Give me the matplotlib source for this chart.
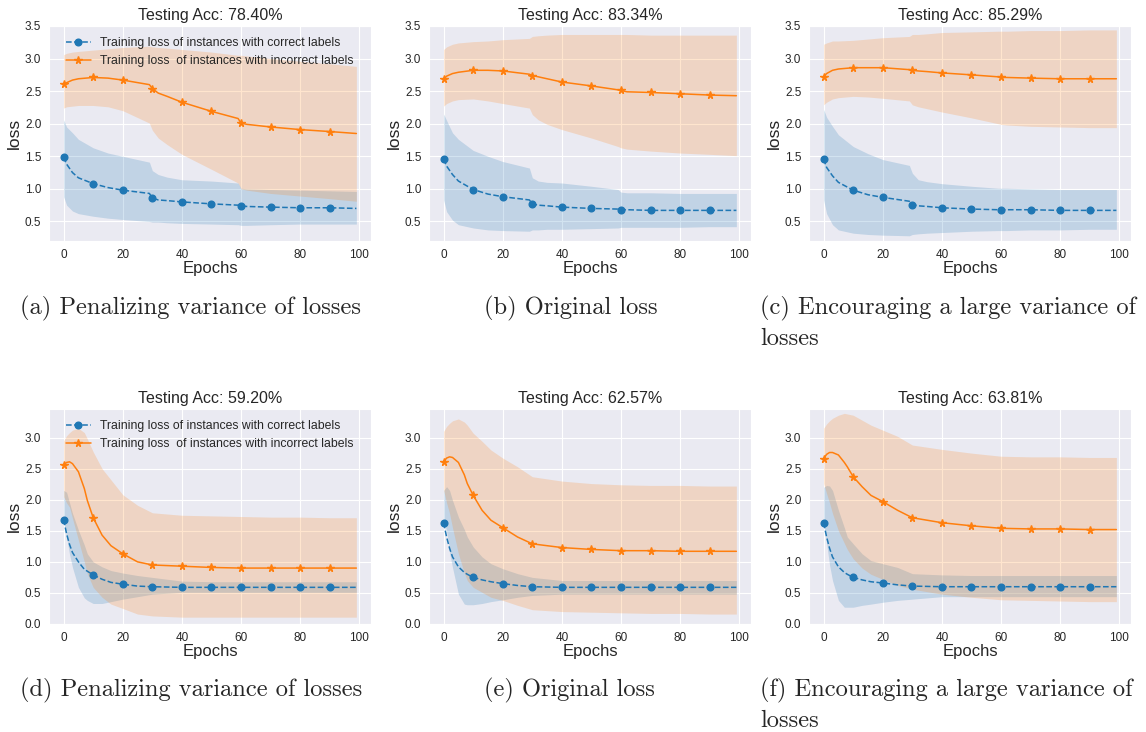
import numpy as np
import matplotlib.pyplot as plt
import seaborn as sns

top_ep = [0, 1, 3, 5, 10, 15, 20, 29, 30, 32, 35, 40, 50, 59, 60, 62, 70, 80, 90, 99]
bot_ep = [0, 1, 2, 3, 5, 7, 8, 10, 13, 16, 20, 25, 30, 40, 50, 60, 70, 80, 90, 99]

# (a) penalizing variance, top row
a_blue = [1.49, 1.38, 1.25, 1.17, 1.08, 1.02, 0.98, 0.93, 0.86, 0.83, 0.82, 0.80, 0.77, 0.75, 0.74, 0.73, 0.72, 0.71, 0.71, 0.70]
a_blue_hi = [2.06, 1.95, 1.86, 1.76, 1.63, 1.55, 1.50, 1.41, 1.28, 1.22, 1.18, 1.14, 1.12, 1.09, 1.01, 1.00, 0.99, 0.98, 0.97, 0.96]
a_blue_lo = [0.88, 0.75, 0.66, 0.62, 0.58, 0.55, 0.53, 0.50, 0.49, 0.49, 0.48, 0.47, 0.46, 0.45, 0.44, 0.44, 0.45, 0.46, 0.46, 0.46]
a_orng = [2.61, 2.63, 2.67, 2.69, 2.71, 2.70, 2.67, 2.60, 2.54, 2.47, 2.42, 2.33, 2.19, 2.08, 2.01, 1.99, 1.95, 1.91, 1.88, 1.85]
a_orng_hi = [3.06, 3.08, 3.10, 3.11, 3.13, 3.15, 3.17, 3.19, 3.18, 3.17, 3.16, 3.14, 3.10, 3.05, 3.05, 3.04, 3.00, 2.96, 2.92, 2.88]
a_orng_lo = [2.24, 2.26, 2.27, 2.28, 2.28, 2.26, 2.20, 2.01, 1.90, 1.78, 1.68, 1.53, 1.30, 1.09, 1.00, 0.98, 0.93, 0.89, 0.85, 0.81]

# (b) original loss, top row
b_blue = [1.46, 1.35, 1.22, 1.12, 0.99, 0.92, 0.88, 0.83, 0.77, 0.75, 0.74, 0.72, 0.70, 0.69, 0.68, 0.68, 0.67, 0.67, 0.67, 0.67]
b_blue_hi = [2.15, 2.05, 1.86, 1.76, 1.59, 1.50, 1.42, 1.32, 1.17, 1.12, 1.10, 1.09, 1.04, 0.99, 0.95, 0.94, 0.94, 0.93, 0.93, 0.93]
b_blue_lo = [0.83, 0.65, 0.52, 0.45, 0.40, 0.37, 0.36, 0.35, 0.37, 0.37, 0.38, 0.38, 0.39, 0.40, 0.41, 0.41, 0.41, 0.41, 0.42, 0.42]
b_orng = [2.68, 2.73, 2.77, 2.79, 2.82, 2.82, 2.81, 2.76, 2.74, 2.72, 2.69, 2.64, 2.58, 2.52, 2.51, 2.49, 2.48, 2.46, 2.44, 2.43]
b_orng_hi = [3.14, 3.18, 3.22, 3.24, 3.26, 3.27, 3.29, 3.31, 3.34, 3.35, 3.36, 3.37, 3.37, 3.37, 3.37, 3.37, 3.36, 3.36, 3.36, 3.36]
b_orng_lo = [2.27, 2.31, 2.35, 2.37, 2.38, 2.35, 2.31, 2.24, 2.14, 2.06, 1.99, 1.91, 1.78, 1.65, 1.63, 1.61, 1.58, 1.55, 1.53, 1.51]

# (c) encouraging variance, top row
c_blue = [1.46, 1.33, 1.20, 1.10, 0.98, 0.91, 0.87, 0.81, 0.76, 0.74, 0.73, 0.71, 0.69, 0.68, 0.68, 0.68, 0.68, 0.67, 0.67, 0.67]
c_blue_hi = [2.22, 2.10, 1.96, 1.83, 1.65, 1.54, 1.45, 1.36, 1.24, 1.14, 1.11, 1.08, 1.04, 1.01, 1.01, 1.01, 1.00, 0.99, 0.99, 0.99]
c_blue_lo = [0.83, 0.62, 0.45, 0.37, 0.32, 0.30, 0.29, 0.28, 0.30, 0.31, 0.32, 0.33, 0.35, 0.36, 0.36, 0.36, 0.37, 0.37, 0.38, 0.38]
c_orng = [2.72, 2.77, 2.82, 2.84, 2.86, 2.86, 2.86, 2.83, 2.82, 2.81, 2.80, 2.78, 2.75, 2.72, 2.71, 2.71, 2.70, 2.69, 2.69, 2.69]
c_orng_hi = [3.22, 3.24, 3.27, 3.27, 3.28, 3.30, 3.32, 3.34, 3.37, 3.37, 3.38, 3.40, 3.41, 3.42, 3.42, 3.42, 3.43, 3.43, 3.44, 3.44]
c_orng_lo = [2.29, 2.33, 2.38, 2.40, 2.42, 2.41, 2.39, 2.35, 2.29, 2.26, 2.23, 2.18, 2.09, 2.00, 1.99, 1.98, 1.96, 1.95, 1.94, 1.94]

# (d) penalizing variance, bottom row
d_blue = [1.68, 1.45, 1.28, 1.15, 1.00, 0.88, 0.85, 0.79, 0.72, 0.67, 0.64, 0.61, 0.60, 0.59, 0.59, 0.59, 0.59, 0.59, 0.59, 0.59]
d_blue_hi = [2.15, 2.12, 1.95, 1.78, 1.51, 1.27, 1.13, 1.00, 0.92, 0.86, 0.82, 0.78, 0.75, 0.69, 0.68, 0.68, 0.68, 0.68, 0.68, 0.68]
d_blue_lo = [1.67, 1.40, 1.12, 0.91, 0.59, 0.42, 0.38, 0.33, 0.33, 0.36, 0.40, 0.44, 0.48, 0.51, 0.51, 0.51, 0.51, 0.51, 0.51, 0.51]
d_orng = [2.56, 2.60, 2.61, 2.58, 2.45, 2.18, 1.99, 1.71, 1.43, 1.26, 1.13, 1.00, 0.95, 0.93, 0.91, 0.90, 0.90, 0.90, 0.90, 0.90]
d_orng_hi = [2.95, 3.03, 3.08, 3.12, 3.15, 3.08, 2.98, 2.77, 2.50, 2.32, 2.08, 1.91, 1.79, 1.75, 1.74, 1.73, 1.72, 1.72, 1.71, 1.71]
d_orng_lo = [2.05, 1.95, 1.88, 1.70, 1.35, 1.00, 0.81, 0.59, 0.43, 0.32, 0.25, 0.16, 0.13, 0.11, 0.11, 0.11, 0.11, 0.11, 0.11, 0.11]

# (e) original loss, bottom row
e_blue = [1.63, 1.40, 1.22, 1.08, 0.92, 0.83, 0.80, 0.75, 0.71, 0.68, 0.65, 0.62, 0.60, 0.59, 0.59, 0.59, 0.59, 0.59, 0.59, 0.59]
e_blue_hi = [2.15, 2.21, 2.15, 1.99, 1.72, 1.52, 1.40, 1.24, 1.08, 0.97, 0.89, 0.81, 0.75, 0.70, 0.70, 0.70, 0.70, 0.70, 0.70, 0.70]
e_blue_lo = [1.67, 1.50, 1.15, 0.91, 0.48, 0.32, 0.31, 0.31, 0.33, 0.36, 0.39, 0.43, 0.46, 0.48, 0.48, 0.48, 0.48, 0.48, 0.48, 0.48]
e_orng = [2.61, 2.67, 2.69, 2.68, 2.60, 2.40, 2.26, 2.07, 1.83, 1.67, 1.55, 1.40, 1.29, 1.23, 1.20, 1.18, 1.18, 1.17, 1.17, 1.17]
e_orng_hi = [3.10, 3.18, 3.23, 3.27, 3.30, 3.25, 3.20, 3.07, 2.94, 2.80, 2.67, 2.53, 2.37, 2.30, 2.26, 2.24, 2.23, 2.23, 2.22, 2.22]
e_orng_lo = [2.15, 1.95, 1.78, 1.55, 1.13, 0.82, 0.70, 0.59, 0.51, 0.43, 0.38, 0.30, 0.23, 0.20, 0.19, 0.18, 0.17, 0.17, 0.16, 0.16]

# (f) encouraging variance, bottom row
f_blue = [1.63, 1.40, 1.22, 1.08, 0.92, 0.83, 0.80, 0.75, 0.71, 0.68, 0.66, 0.63, 0.61, 0.60, 0.60, 0.60, 0.60, 0.60, 0.60, 0.60]
f_blue_hi = [2.20, 2.23, 2.22, 2.15, 1.83, 1.55, 1.40, 1.29, 1.13, 1.02, 0.97, 0.91, 0.81, 0.79, 0.78, 0.78, 0.78, 0.78, 0.78, 0.78]
f_blue_lo = [1.67, 1.30, 0.95, 0.70, 0.38, 0.27, 0.27, 0.27, 0.30, 0.32, 0.35, 0.38, 0.40, 0.44, 0.44, 0.44, 0.44, 0.44, 0.44, 0.44]
f_orng = [2.66, 2.73, 2.76, 2.76, 2.72, 2.60, 2.53, 2.37, 2.21, 2.07, 1.97, 1.83, 1.71, 1.63, 1.58, 1.54, 1.53, 1.53, 1.52, 1.52]
f_orng_hi = [3.15, 3.22, 3.27, 3.31, 3.36, 3.39, 3.38, 3.36, 3.28, 3.20, 3.12, 3.02, 2.88, 2.81, 2.75, 2.70, 2.69, 2.69, 2.68, 2.68]
f_orng_lo = [2.26, 2.10, 1.95, 1.78, 1.50, 1.30, 1.20, 1.05, 0.90, 0.80, 0.72, 0.62, 0.56, 0.48, 0.43, 0.39, 0.38, 0.37, 0.36, 0.36]

accs = ["78.40%", "83.34%", "85.29%", "59.20%", "62.57%", "63.81%"]
captions = [
    ["(a) Penalizing variance of losses"],
    ["(b) Original loss"],
    ["(c) Encouraging a large variance of", "losses"],
    ["(d) Penalizing variance of losses"],
    ["(e) Original loss"],
    ["(f) Encouraging a large variance of", "losses"],
]
lbl_correct = "Training loss of instances with correct labels"
lbl_wrong = "Training loss  of instances with incorrect labels"

sns.set_style("darkgrid")
plt.rcParams['font.family'] = ['Liberation Sans', 'DejaVu Sans']

BLUE = '#1f77b4'
ORANGE = '#ff7f0e'

panels = [
    (top_ep, a_blue, a_blue_lo, a_blue_hi, a_orng, a_orng_lo, a_orng_hi),
    (top_ep, b_blue, b_blue_lo, b_blue_hi, b_orng, b_orng_lo, b_orng_hi),
    (top_ep, c_blue, c_blue_lo, c_blue_hi, c_orng, c_orng_lo, c_orng_hi),
    (bot_ep, d_blue, d_blue_lo, d_blue_hi, d_orng, d_orng_lo, d_orng_hi),
    (bot_ep, e_blue, e_blue_lo, e_blue_hi, e_orng, e_orng_lo, e_orng_hi),
    (bot_ep, f_blue, f_blue_lo, f_blue_hi, f_orng, f_orng_lo, f_orng_hi),
]

W, H = 1146, 732
fig = plt.figure(figsize=(W / 100, H / 100), dpi=100)

lefts = [49, 429, 809]
tops = [26, 409]
cap_x = [20, 484, 760]
cap_base = [314, 696]
ax_w, ax_h = 322, 215

for i, (ep, bm, bl, bh, om, ol, oh) in enumerate(panels):
    r, c = divmod(i, 3)
    ax = fig.add_axes([lefts[c] / W, 1 - (tops[r] + ax_h) / H, ax_w / W, ax_h / H])
    ep = np.array(ep)
    marks = [k for k, e in enumerate(ep) if e % 10 == 0]  # marker every 10 epochs

    ax.plot(ep, bm, '--', color=BLUE, lw=1.1, marker='o', ms=4.8, markevery=marks, label=lbl_correct)
    ax.fill_between(ep, bl, bh, color=BLUE, alpha=0.2, lw=0)
    ax.plot(ep, om, '-', color=ORANGE, lw=1.1, marker='*', ms=5.5, markevery=marks, label=lbl_wrong)
    ax.fill_between(ep, ol, oh, color=ORANGE, alpha=0.2, lw=0)

    ax.set_xlim(-4.95, 103.95)
    ax.set_xticks([0, 20, 40, 60, 80, 100])
    if r == 0:
        ax.set_ylim(0.2, 3.5)
        ax.set_yticks([0.5, 1.0, 1.5, 2.0, 2.5, 3.0, 3.5])
    else:
        ax.set_ylim(0.0, 3.46)
        ax.set_yticks([0.0, 0.5, 1.0, 1.5, 2.0, 2.5, 3.0])
    ax.tick_params(labelsize=8.5, pad=2)
    ax.set_title("Testing Acc: " + accs[i], fontsize=11.5, pad=4)
    ax.set_xlabel("Epochs", fontsize=12, labelpad=0)
    ax.set_ylabel("loss", fontsize=12.5, labelpad=2)
    if c == 0:
        ax.legend(loc='upper center', fontsize=8.8, frameon=False)

    for k, line in enumerate(captions[i]):
        fig.text(cap_x[c] / W, 1 - (cap_base[r] + 31 * k) / H, line,
                 family='cmr10', fontsize=17.6, va='baseline', ha='left')

fig.savefig('out.png', dpi=100)
